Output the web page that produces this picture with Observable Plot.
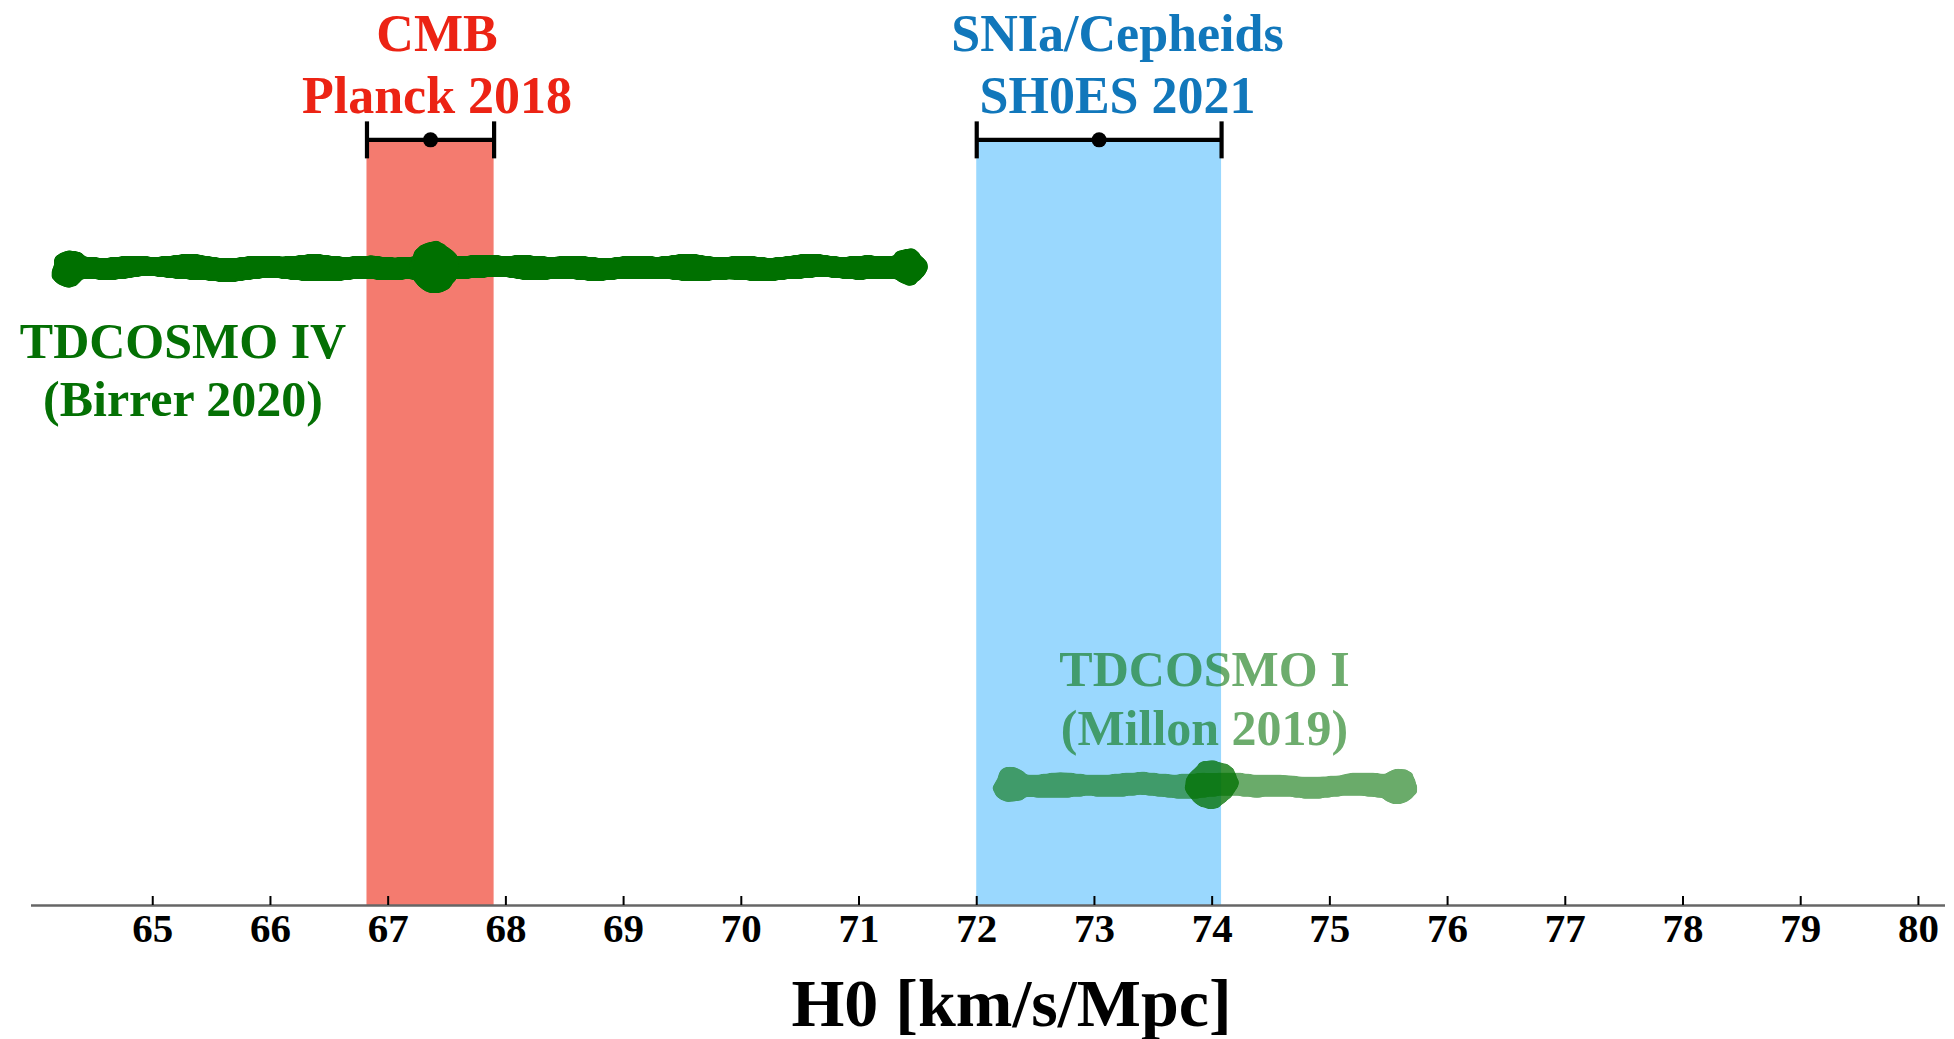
<!DOCTYPE html>
<html>
<head>
<meta charset="utf-8">
<script src="https://cdn.jsdelivr.net/npm/d3@7"></script>
<script src="https://cdn.jsdelivr.net/npm/@observablehq/plot@0.6"></script>
<style>
  html, body { margin: 0; padding: 0; background: #fff; overflow: hidden; }
  #chart svg { display: block; }
</style>
</head>
<body>
<div id="chart"></div>
<script>
// ---------- data ----------
const bandNames  = ["CMB Planck 2018", "SNIa/Cepheids SH0ES 2021"];
const bandCenter = [67.36, 73.04];
const bandError  = [0.54, 1.04];
const bandRow    = [0.846, 0.846];

const lensNames  = ["TDCOSMO IV (Birrer 2020)", "TDCOSMO I (Millon 2019)"];
const lensCenter = [67.4, 74.0];
const lensLow    = [64.3, 72.3];
const lensHigh   = [71.42, 75.58];
const lensRow    = [0.705, 0.133];

const labelText  = ["CMB\nPlanck 2018", "SNIa/Cepheids\nSH0ES 2021", "TDCOSMO IV\n(Birrer 2020)", "TDCOSMO I\n(Millon 2019)"];
const labelX     = [67.415, 73.196, 65.257, 73.935];
const labelY     = [0.876, 0.876, 0.5414, 0.1768];

const xTicks     = [65, 66, 67, 68, 69, 70, 71, 72, 73, 74, 75, 76, 77, 78, 79, 80];
const xTitle     = "H0 [km/s/Mpc]";

// ---------- styles ----------
const bandFill   = ["#F47B6F", "#9AD8FE"];
const labelColor = ["#EC2314", "#1177BB", "#047004", "#047004"];
const labelSize  = [52, 52, 50, 50];
const labelLH    = [1.19, 1.19, 1.16, 1.18];
const labelOpac  = [1, 1, 1, 0.58];
const green = "#047004";
const FONT = "'Liberation Serif', 'Times New Roman', serif";

const bands = bandNames.map((name, i) => ({
  name, c: bandCenter[i], lo: bandCenter[i] - bandError[i], hi: bandCenter[i] + bandError[i], row: bandRow[i], fill: bandFill[i]
}));
const lenses = lensNames.map((name, i) => ({
  name, c: lensCenter[i], lo: lensLow[i], hi: lensHigh[i], row: lensRow[i]
}));
const labels = labelText.map((t, i) => ({
  t, x: labelX[i], y: labelY[i], color: labelColor[i], size: labelSize[i], lh: labelLH[i], op: labelOpac[i]
}));

// vertical bar symbol for error-bar caps
const vbar = { draw(ctx, size) { const r = Math.sqrt(size / Math.PI); ctx.moveTo(0, -r); ctx.lineTo(0, r); } };

const lensMarks = [];
lenses.forEach((L, i) => {
  const d = [L];
  lensMarks.push(
    Plot.ruleY(d, {y: "row", x1: "lo", x2: "hi", stroke: green, strokeWidth: 23, strokeLinecap: "round", ariaDescription: `lens-body-${i}`}),
    Plot.dot(d, {x: "lo", y: "row", r: 18.5, fill: green, stroke: "none", ariaDescription: `lens-body-${i}`}),
    Plot.dot(d, {x: "hi", y: "row", r: 18.5, fill: green, stroke: "none", ariaDescription: `lens-body-${i}`}),
    Plot.dot(d, {x: "c", y: "row", r: 25, fill: green, stroke: "none", ariaDescription: `lens-dot-${i}`})
  );
});

const labelMarks = labels.map((L) =>
  Plot.text([L], {
    x: "x", y: "y", text: "t", fill: L.color, fillOpacity: L.op,
    fontSize: L.size, fontWeight: "bold", fontFamily: FONT,
    lineAnchor: "bottom", lineHeight: L.lh, textAnchor: "middle"
  })
);

const chart = Plot.plot({
  width: 1954,
  height: 1039,
  marginTop: 0,
  marginBottom: 134,
  marginLeft: 31,
  marginRight: 9,
  style: {background: "white", fontFamily: FONT},
  x: {domain: [63.97, 80.23]},
  y: {domain: [0, 1], axis: null},
  marks: [
    Plot.rectX(bands, {x1: "lo", x2: "hi", y1: 0, y2: "row", fill: "fill"}),
    Plot.ruleY([0], {stroke: "#666", strokeWidth: 2.6}),
    Plot.axisX({
      ticks: xTicks, tickFormat: (d) => String(d), tickSize: -9, tickPadding: 16,
      stroke: "#000", strokeWidth: 2, fill: "#000",
      fontSize: 41, fontWeight: "bold", fontFamily: FONT, label: null
    }),
    Plot.ruleY(bands, {y: "row", x1: "lo", x2: "hi", stroke: "#000", strokeWidth: 4.2}),
    Plot.dot(bands, {x: "lo", y: "row", r: 18.5, symbol: vbar, stroke: "#000", strokeWidth: 4.2, fill: "none"}),
    Plot.dot(bands, {x: "hi", y: "row", r: 18.5, symbol: vbar, stroke: "#000", strokeWidth: 4.2, fill: "none"}),
    Plot.dot(bands, {x: "c", y: "row", r: 7.5, fill: "#000", stroke: "none"}),
    ...lensMarks,
    ...labelMarks,
    Plot.text([xTitle], {
      text: (d) => d, frameAnchor: "bottom", lineAnchor: "bottom", dx: 23, dy: 120,
      fontSize: 68, fontWeight: "bold", fontFamily: FONT, fill: "#000"
    })
  ]
});

// ---------- hand-drawn wobble and grouped transparency ----------
const ns = "http://www.w3.org/2000/svg";
const defs = document.createElementNS(ns, "defs");
defs.innerHTML = `
  <filter id="wobble" filterUnits="userSpaceOnUse" x="0" y="0" width="1954" height="1039">
    <feTurbulence type="fractalNoise" baseFrequency="0.024 0.07" numOctaves="1" seed="5" result="n"/>
    <feDisplacementMap in="SourceGraphic" in2="n" scale="11" xChannelSelector="R" yChannelSelector="G" result="d"/>
    <feGaussianBlur in="d" stdDeviation="1.6" result="b"/>
    <feComponentTransfer in="b">
      <feFuncA type="linear" slope="5" intercept="-2"/>
    </feComponentTransfer>
  </filter>`;
chart.insertBefore(defs, chart.firstChild);

function wrap(desc, attrs) {
  const gs = chart.querySelectorAll(`g[aria-description="${desc}"]`);
  if (!gs.length) return;
  const w = document.createElementNS(ns, "g");
  gs[0].parentNode.insertBefore(w, gs[0]);
  gs.forEach((g) => w.appendChild(g));
  for (const k in attrs) w.setAttribute(k, attrs[k]);
}
wrap("lens-body-0", {filter: "url(#wobble)"});
wrap("lens-dot-0", {filter: "url(#wobble)"});
wrap("lens-body-1", {filter: "url(#wobble)", opacity: 0.58});
wrap("lens-dot-1", {filter: "url(#wobble)", opacity: 0.76});

document.getElementById("chart").appendChild(chart);
</script>
</body>
</html>
